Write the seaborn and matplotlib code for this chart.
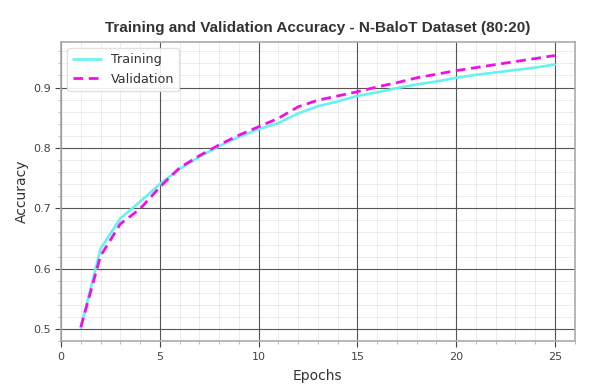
import numpy as np
import pandas as pd
import matplotlib
matplotlib.use("Agg")
import matplotlib.pyplot as plt
from matplotlib import font_manager
from matplotlib.ticker import MultipleLocator
import seaborn as sns

epochs = list(range(1, 26))
train_acc = [0.502, 0.633, 0.683, 0.711, 0.740, 0.765, 0.785, 0.803, 0.818, 0.831,
             0.841, 0.857, 0.869, 0.877, 0.886, 0.892, 0.899, 0.905, 0.910, 0.916,
             0.921, 0.925, 0.929, 0.933, 0.938]
val_acc = [0.503, 0.621, 0.674, 0.699, 0.735, 0.767, 0.787, 0.805, 0.821, 0.835,
           0.849, 0.868, 0.879, 0.886, 0.893, 0.901, 0.908, 0.916, 0.922, 0.928,
           0.933, 0.938, 0.943, 0.948, 0.953]

df = pd.DataFrame({"Epochs": epochs, "Training": train_acc, "Validation": val_acc})

sns.set_style("ticks")
plt.rcParams['font.family'] = ['DejaVu Sans']

fig = plt.figure(figsize=(5.89, 3.88), dpi=100)
ax = fig.add_axes([0.1036, 0.12, 0.872, 0.772])

sns.lineplot(data=df, x="Epochs", y="Training", ax=ax, color="#66f2ee", lw=1.9, label="Training")
sns.lineplot(data=df, x="Epochs", y="Validation", ax=ax, color="#ee10e6", lw=2,
             linestyle=(0, (3.5, 2)), label="Validation")

ax.set_xlim(0, 26)
ax.xaxis.set_major_locator(MultipleLocator(5))
ax.xaxis.set_minor_locator(MultipleLocator(1))
ax.yaxis.set_major_locator(MultipleLocator(0.1))
ax.yaxis.set_minor_locator(MultipleLocator(0.02))
ax.grid(which="major", color="#555555", lw=0.8)
ax.grid(which="minor", color="black", alpha=0.09, lw=0.6)
ax.set_axisbelow(True)
for s in ax.spines.values():
    s.set_color("#aaaaaa")
    s.set_linewidth(1.2)
ax.tick_params(which="major", labelsize=8, labelcolor="#444444", color="#444444", length=4)
ax.tick_params(which="minor", length=2, color="#aaaaaa")

ax.set_xlabel("Epochs", fontsize=10, color="#333333", labelpad=5)
ax.set_ylabel("Accuracy", fontsize=10, color="#333333", labelpad=3)

# narrow bold title, like the original
names = {f.name for f in font_manager.fontManager.ttflist}
tfam = "Liberation Sans Narrow" if "Liberation Sans Narrow" in names else "Liberation Sans"
title = ax.set_title("Training and Validation Accuracy - N-BaloT Dataset (80:20)", fontsize=13,
                     fontweight="bold", family=tfam, color="#333333", pad=7)
r = fig.canvas.get_renderer()
w = title.get_window_extent(r).width
title.set_fontsize(min(13, 13 * 425 / w))

leg = ax.legend(loc="upper left", fontsize=9.2, frameon=True, framealpha=0.9,
                edgecolor="#dddddd", handlelength=2.2)
for t in leg.get_texts():
    t.set_color("#333333")

fig.savefig("out.png", dpi=100)
